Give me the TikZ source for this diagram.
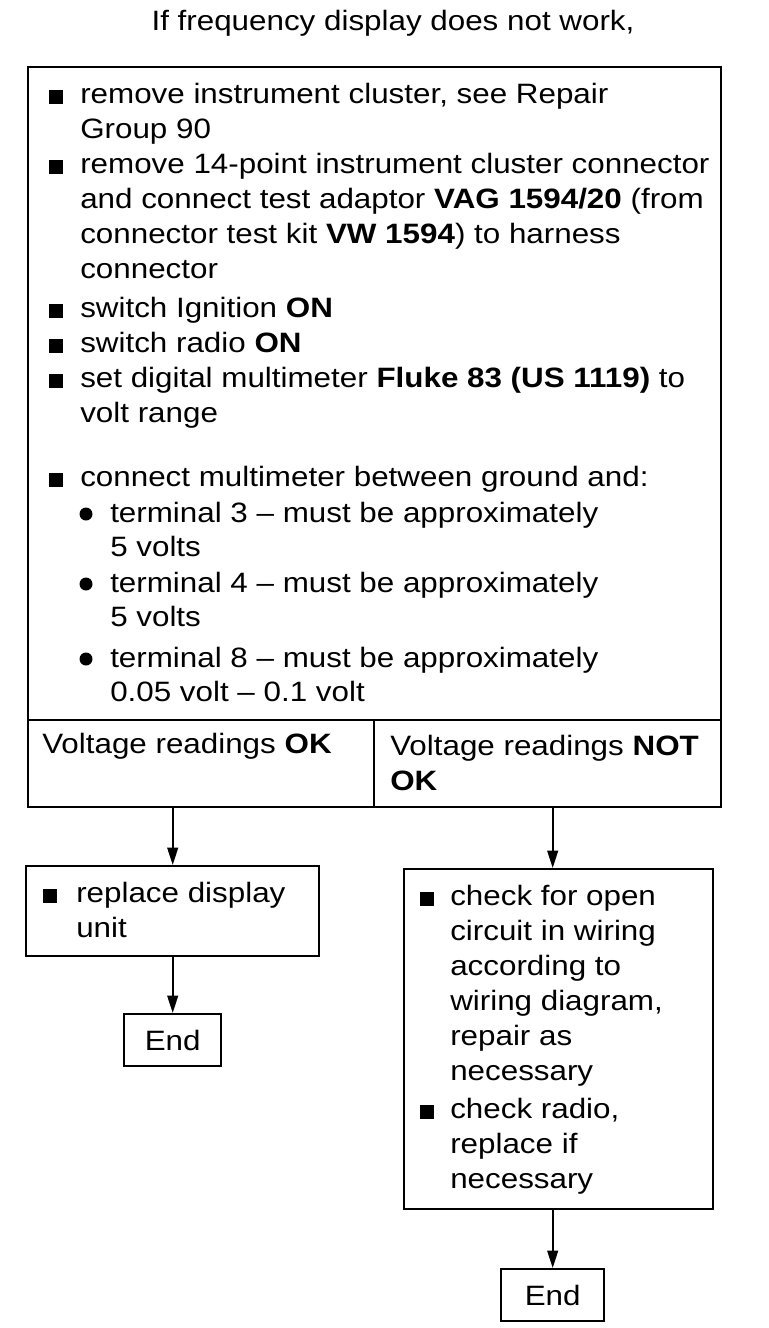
\documentclass[tikz,border=0pt]{standalone}
\usepackage{fontspec}
\setmainfont{Liberation Sans}[FakeStretch=1.12]
\usetikzlibrary{arrows.meta}
\begin{document}
\begin{tikzpicture}[x=0.75pt,y=-0.75pt,
  box/.style={draw, line width=1.8pt, inner sep=0, anchor=north west,
              font=\fontsize{21pt}{26.25pt}\selectfont},
  txt/.style={inner sep=0, anchor=base west, align=left,
              font=\fontsize{21pt}{26.25pt}\selectfont},
  subtxt/.style={txt, font=\fontsize{21pt}{25.5pt}\selectfont},
  arr/.style={line width=1.5pt, -{Triangle[length=13pt,width=8pt]}}]
\fill[white] (0,0) rectangle (768,1328);
\useasboundingbox (0,0) rectangle (768,1328);

% title
\node[txt, anchor=base] (title) at (393,30) {If frequency display does not work,};

% boxes
\node[box, minimum width=519.75pt, minimum height=489.75pt] (main) at (27,66) {};
\node[box, minimum width=259.5pt, minimum height=65.25pt] (ok) at (27,719) {};
\node[box, minimum width=260.25pt, minimum height=65.25pt] (nok) at (373,719) {};
\node[box, minimum width=219.75pt, minimum height=67.5pt] (rep) at (25,865) {};
\node[box, minimum width=72.75pt, minimum height=39pt] (end1) at (123,1013) {End};
\node[box, minimum width=231.75pt, minimum height=255pt] (chk) at (403,868) {};
\node[box, minimum width=77.25pt, minimum height=39pt] (end2) at (500,1268) {End};

% main box items (node base = baseline of last line)
\fill (49,104) rectangle (63,90);
\node[txt] (m1) at (80,138) {remove instrument cluster, see Repair\\Group 90};
\fill (49,174) rectangle (63,160);
\node[txt] (m2) at (80,278) {remove 14-point instrument cluster connector\\and connect test adaptor \textbf{VAG 1594/20} (from\\connector test kit \textbf{VW 1594}) to harness\\connector};
\fill (49,318) rectangle (63,304);
\node[txt] (m3) at (80,317) {switch Ignition \textbf{ON}};
\fill (49,353) rectangle (63,339);
\node[txt] (m4) at (80,352) {switch radio \textbf{ON}};
\fill (49,388) rectangle (63,374);
\node[txt] (m5) at (80,422) {set digital multimeter \textbf{Fluke 83 (US 1119)} to\\volt range};
\fill (49,487) rectangle (63,473);
\node[txt] (m6) at (80,486) {connect multimeter between ground and:};

\fill (86,514) circle (6.5);
\node[subtxt] (t3) at (110,556) {terminal 3 -- must be approximately\\5 volts};
\fill (86,584) circle (6.5);
\node[subtxt] (t4) at (110,626) {terminal 4 -- must be approximately\\5 volts};
\fill (86,659) circle (6.5);
\node[subtxt] (t8) at (110,701) {terminal 8 -- must be approximately\\0.05 volt -- 0.1 volt};

% result boxes
\node[txt] (okt) at (42,753) {Voltage readings \textbf{OK}};
\node[txt] (nokt) at (390,790) {Voltage readings \textbf{NOT}\\\textbf{OK}};

% left branch
\fill (43,903) rectangle (57,889);
\node[txt] (rept) at (76,937) {replace display\\unit};

% right branch
\fill (420,906) rectangle (434,892);
\node[txt] (chk1) at (450,1080) {check for open\\circuit in wiring\\according to\\wiring diagram,\\repair as\\necessary};
\fill (420,1119) rectangle (434,1105);
\node[txt] (chk2) at (450,1188) {check radio,\\replace if\\necessary};

% connectors
\draw[arr] (rep.north |- ok.south) -- (rep.north);
\draw[arr] (rep.south) -- (end1.north);
\draw[arr] (end2.north |- nok.south) -- (end2.north |- chk.north);
\draw[arr] (end2.north |- chk.south) -- (end2.north);
\end{tikzpicture}
\end{document}
